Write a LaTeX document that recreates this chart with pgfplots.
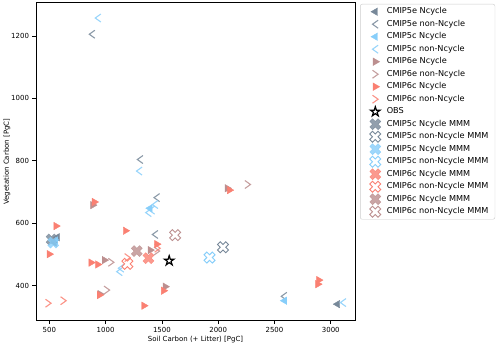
\documentclass[border=0pt]{standalone}
\usepackage{fontspec}
\setmainfont{DejaVu Sans}
\usepackage{pgfplots}
\pgfplotsset{compat=1.18}
\definecolor{c5e}{HTML}{778899}
\definecolor{c5c}{HTML}{87CEFA}
\definecolor{c6e}{HTML}{BC8F8F}
\definecolor{c6c}{HTML}{FA8072}
\pgfdeclareplotmark{chevL}{%
 \pgfpathmoveto{\pgfqpoint{0.7\pgfplotmarksize}{\pgfplotmarksize}}%
 \pgfpathlineto{\pgfqpoint{-0.7\pgfplotmarksize}{0pt}}%
 \pgfpathlineto{\pgfqpoint{0.7\pgfplotmarksize}{-\pgfplotmarksize}}%
 \pgfusepathqstroke}
\pgfdeclareplotmark{chevR}{%
 \pgfpathmoveto{\pgfqpoint{-0.7\pgfplotmarksize}{\pgfplotmarksize}}%
 \pgfpathlineto{\pgfqpoint{0.7\pgfplotmarksize}{0pt}}%
 \pgfpathlineto{\pgfqpoint{-0.7\pgfplotmarksize}{-\pgfplotmarksize}}%
 \pgfusepathqstroke}
\def\fatxpath{%
 \pgfpathmoveto{\pgfqpoint{-0.5\pgfplotmarksize}{-\pgfplotmarksize}}%
 \pgfpathlineto{\pgfqpoint{0pt}{-0.5\pgfplotmarksize}}%
 \pgfpathlineto{\pgfqpoint{0.5\pgfplotmarksize}{-\pgfplotmarksize}}%
 \pgfpathlineto{\pgfqpoint{\pgfplotmarksize}{-0.5\pgfplotmarksize}}%
 \pgfpathlineto{\pgfqpoint{0.5\pgfplotmarksize}{0pt}}%
 \pgfpathlineto{\pgfqpoint{\pgfplotmarksize}{0.5\pgfplotmarksize}}%
 \pgfpathlineto{\pgfqpoint{0.5\pgfplotmarksize}{\pgfplotmarksize}}%
 \pgfpathlineto{\pgfqpoint{0pt}{0.5\pgfplotmarksize}}%
 \pgfpathlineto{\pgfqpoint{-0.5\pgfplotmarksize}{\pgfplotmarksize}}%
 \pgfpathlineto{\pgfqpoint{-\pgfplotmarksize}{0.5\pgfplotmarksize}}%
 \pgfpathlineto{\pgfqpoint{-0.5\pgfplotmarksize}{0pt}}%
 \pgfpathlineto{\pgfqpoint{-\pgfplotmarksize}{-0.5\pgfplotmarksize}}%
 \pgfpathclose}
\pgfdeclareplotmark{fatX*}{\fatxpath\pgfusepathqfillstroke}
\pgfdeclareplotmark{fatX}{\fatxpath\pgfusepathqstroke}
\pgfdeclareplotmark{mstar}{%
 \pgfpathmoveto{\pgfqpoint{0pt}{\pgfplotmarksize}}%
 \pgfpathlineto{\pgfqpoint{-0.2245\pgfplotmarksize}{0.309\pgfplotmarksize}}%
 \pgfpathlineto{\pgfqpoint{-0.951\pgfplotmarksize}{0.309\pgfplotmarksize}}%
 \pgfpathlineto{\pgfqpoint{-0.3633\pgfplotmarksize}{-0.118\pgfplotmarksize}}%
 \pgfpathlineto{\pgfqpoint{-0.588\pgfplotmarksize}{-0.809\pgfplotmarksize}}%
 \pgfpathlineto{\pgfqpoint{0pt}{-0.382\pgfplotmarksize}}%
 \pgfpathlineto{\pgfqpoint{0.588\pgfplotmarksize}{-0.809\pgfplotmarksize}}%
 \pgfpathlineto{\pgfqpoint{0.3633\pgfplotmarksize}{-0.118\pgfplotmarksize}}%
 \pgfpathlineto{\pgfqpoint{0.951\pgfplotmarksize}{0.309\pgfplotmarksize}}%
 \pgfpathlineto{\pgfqpoint{0.2245\pgfplotmarksize}{0.309\pgfplotmarksize}}%
 \pgfpathclose\pgfusepathqfillstroke}
\newcommand{\sfont}{\fontsize{7}{8.4}\selectfont}
\newcommand{\lfont}{\fontsize{8.2}{10}\selectfont}
\begin{document}
\begin{tikzpicture}
\begin{axis}[
 scale only axis, width=319bp, height=318bp,
 xmin=382, xmax=3215, ymin=288, ymax=1306,
 xtick={500,1000,...,3000}, ytick={400,600,...,1200},
 tick pos=left, tick align=outside, major tick length=3.5bp,
 tick style={black, line width=0.6bp},
 axis line style={line width=0.6bp},
 ticklabel style={font=\sfont},
 /pgf/number format/assume math mode=true,
 /pgf/number format/1000 sep={},
 xlabel={Soil Carbon (+ Litter) [PgC]},
 ylabel={Vegetation Carbon [PgC]},
 label style={font=\sfont},
 xlabel style={yshift=3.5bp},
 ylabel style={yshift=-6bp},
 legend cell align=left,
 legend image code/.code={\path[draw=none,fill=none] (0bp,-1bp) (20bp,1bp);\draw[#1,only marks] plot coordinates {(10bp,0bp)};},
 legend style={at={(1.016,0.996)}, anchor=north west, draw=black!20, rounded corners=2bp,
   font=\lfont, row sep=1.4bp, inner xsep=5bp, inner ysep=2bp,
   nodes={inner sep=1.5bp, text height=6.3bp, text depth=1.8bp}},
 tri/.style={only marks, mark=triangle*, mark size=4.3bp, color=#1, mark options={fill opacity=0.75, draw opacity=0.75}},
]
% CMIP5e Ncycle
\addplot[tri=c5e, mark options={rotate=90}] coordinates {(570,555) (545,538) (3060,341)};
\addlegendentry{CMIP5e Ncycle}
% CMIP5e non-Ncycle
\addplot[only marks, mark=chevL, mark size=4bp, color=c5e, mark options={line width=1.1bp, draw opacity=0.85}] coordinates {(880,1205) (1307,804) (1455,682) (1440,564) (2585,366)};
\addlegendentry{CMIP5e non-Ncycle}
% CMIP5c Ncycle
\addplot[tri=c5c, mark options={rotate=90}] coordinates {(555,545) (2590,352) (1395,648)};
\addlegendentry{CMIP5c Ncycle}
% CMIP5c non-Ncycle
\addplot[only marks, mark=chevL, mark size=4bp, color=c5c, mark options={line width=1.1bp, draw opacity=0.85}] coordinates {(933,1257) (1299,767) (1440,660) (1411,642) (1381,634) (1138,456) (1123,445) (3110,346)};
\addlegendentry{CMIP5c non-Ncycle}
% CMIP6e Ncycle
\addplot[tri=c6e, mark options={rotate=-90}] coordinates {(2080,712) (886,658) (989,482) (1396,514) (1529,397) (951,373)};
\addlegendentry{CMIP6e Ncycle}
% CMIP6e non-Ncycle
\addplot[only marks, mark=chevR, mark size=4bp, color=c6e, mark options={line width=1.1bp, draw opacity=0.85}] coordinates {(2262,724) (1049,475) (1455,511) (1011,386)};
\addlegendentry{CMIP6e non-Ncycle}
% CMIP6c Ncycle
\addplot[tri=c6c, mark options={rotate=-90}] coordinates {(2100,706) (900,668) (560,591) (1176,576) (500,501) (871,474) (930,468) (1455,533) (1514,384) (945,370) (1340,336) (2893,418) (2885,405)};
\addlegendentry{CMIP6c Ncycle}
% CMIP6c non-Ncycle
\addplot[only marks, mark=chevR, mark size=4bp, color=c6c, mark options={line width=1.1bp, draw opacity=0.85}] coordinates {(1194,490) (491,344) (625,352) (1460,520)};
\addlegendentry{CMIP6c non-Ncycle}
% OBS
\addplot[only marks, mark=mstar, mark size=5bp, mark options={draw=black, fill=white, line width=1.2bp}] coordinates {(1565,480)};
\addlegendentry{OBS}
% MMMs
\addplot[only marks, mark=fatX*, mark size=5.5bp, color=c5e, mark options={fill opacity=0.8, draw opacity=0.8}] coordinates {(520,548)};
\addlegendentry{CMIP5c Ncycle MMM}
\addplot[only marks, mark=fatX, mark size=5.5bp, color=c5e, mark options={line width=0.9bp}] coordinates {(2043,523)};
\addlegendentry{CMIP5c non-Ncycle MMM}
\addplot[only marks, mark=fatX*, mark size=5.5bp, color=c5c, mark options={fill opacity=0.8, draw opacity=0.8}] coordinates {(535,538)};
\addlegendentry{CMIP5c Ncycle MMM}
\addplot[only marks, mark=fatX, mark size=5.5bp, color=c5c, mark options={line width=0.9bp}] coordinates {(1923,490)};
\addlegendentry{CMIP5c non-Ncycle MMM}
\addplot[only marks, mark=fatX*, mark size=5.5bp, color=c6c, mark options={fill opacity=0.8, draw opacity=0.8}] coordinates {(1381,488)};
\addlegendentry{CMIP6c Ncycle MMM}
\addplot[only marks, mark=fatX, mark size=5.5bp, color=c6c, mark options={line width=0.9bp}] coordinates {(1194,470)};
\addlegendentry{CMIP6c non-Ncycle MMM}
\addplot[only marks, mark=fatX*, mark size=5.5bp, color=c6e, mark options={fill opacity=0.8, draw opacity=0.8}] coordinates {(1277,511)};
\addlegendentry{CMIP6c Ncycle MMM}
\addplot[only marks, mark=fatX, mark size=5.5bp, color=c6e, mark options={line width=0.9bp}] coordinates {(1618,562)};
\addlegendentry{CMIP6c non-Ncycle MMM}
\end{axis}
\pgfresetboundingbox
\path[use as bounding box] (-36bp,-24.3bp) rectangle (464bp,320.7bp);
\end{tikzpicture}
\end{document}
